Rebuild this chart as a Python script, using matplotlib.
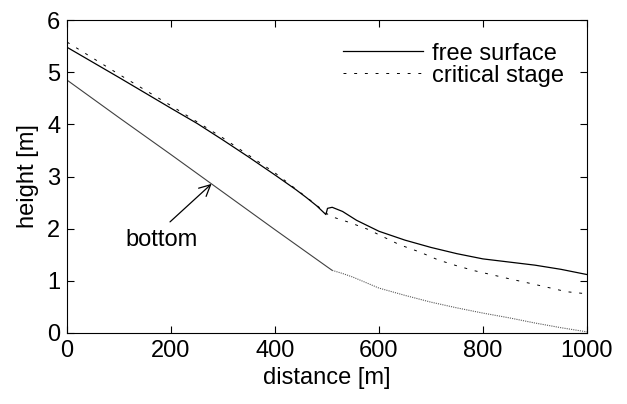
import numpy as np
import matplotlib
matplotlib.use('Agg')
import matplotlib.pyplot as plt

plt.rcParams['font.family'] = ['Liberation Sans', 'DejaVu Sans']

# values
bottom_x = [0, 100, 200, 300, 400, 500, 510, 530, 550, 600, 650, 700, 750, 800, 850, 900, 950, 1000]
bottom_y = [4.85, 4.13, 3.42, 2.70, 1.98, 1.27, 1.20, 1.14, 1.07, 0.86, 0.72, 0.59, 0.48, 0.38, 0.29, 0.19, 0.10, 0.02]

surface_x = [0, 100, 200, 250, 300, 350, 400, 420, 440, 460, 480, 498, 501, 510, 530, 557, 600, 650, 700, 750, 800, 850, 900, 950, 1000]
surface_y = [5.48, 4.90, 4.31, 4.02, 3.70, 3.37, 3.03, 2.89, 2.75, 2.60, 2.44, 2.27, 2.39, 2.41, 2.33, 2.16, 1.95, 1.78, 1.64, 1.52, 1.42, 1.36, 1.30, 1.22, 1.12]

critical_x = [0, 100, 200, 300, 400, 470, 506, 543, 578, 611, 640, 679, 714, 749, 785, 850, 900, 961, 1000]
critical_y = [5.58, 4.96, 4.36, 3.74, 3.07, 2.53, 2.24, 2.12, 1.99, 1.83, 1.69, 1.55, 1.40, 1.29, 1.19, 1.04, 0.93, 0.79, 0.75]

kink_x = 510

fig = plt.figure(figsize=(6.27, 4.04), dpi=100)
ax = fig.add_axes([0.107, 0.176, 0.829, 0.774])

ax.plot(surface_x, surface_y, color='black', lw=0.9, label='free surface')
ax.plot(critical_x, critical_y, color='black', lw=0.7, linestyle=(0, (3, 8)), label='critical stage')

bx = np.array(bottom_x)
by = np.array(bottom_y)
ax.plot(bx[bx <= kink_x], by[bx <= kink_x], color='0.25', lw=0.8)
ax.plot(bx[bx >= kink_x], by[bx >= kink_x], color='0.35', lw=0.8, linestyle=(0, (1, 1)))

# label and arrow pointing at the bottom line
ax.text(181, 1.78, 'bottom', fontsize=17, ha='center', va='center')
ax.annotate('', xy=(278, 2.86), xytext=(198, 2.13),
            arrowprops=dict(arrowstyle='->', color='black', lw=0.9,
                            shrinkA=0, shrinkB=0, mutation_scale=20))

ax.set_xlim(0, 1000)
ax.set_ylim(0, 6)
ax.set_xticks([0, 200, 400, 600, 800, 1000])
ax.set_yticks([0, 1, 2, 3, 4, 5, 6])
ax.tick_params(direction='in', top=True, right=True, length=5, labelsize=17, pad=5)
ax.set_xlabel('distance [m]', fontsize=17, labelpad=4)
ax.set_ylabel('height [m]', fontsize=17, labelpad=6)

ax.legend(loc='upper right', frameon=False, fontsize=17, handlelength=3.4,
          borderaxespad=0.55, labelspacing=0.0, handletextpad=0.4)

fig.savefig('out.png', dpi=100)
